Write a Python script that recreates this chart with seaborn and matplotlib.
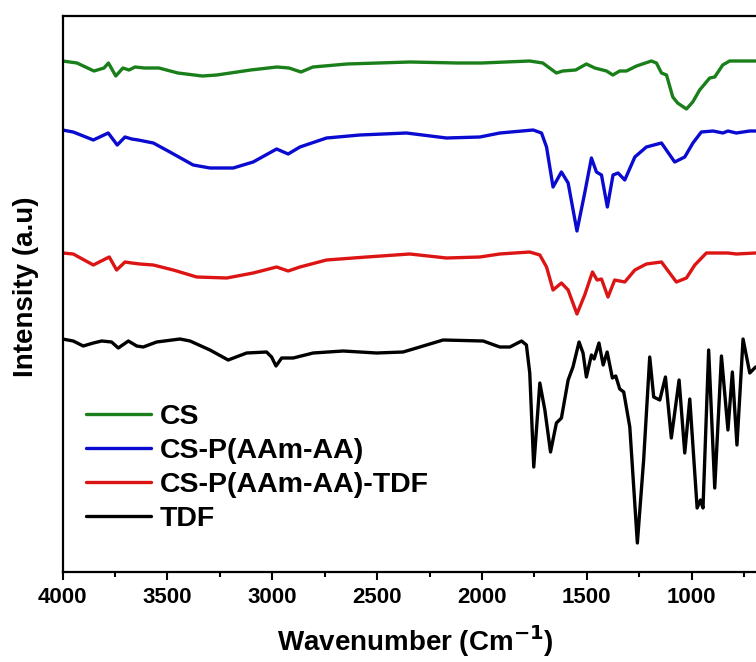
import numpy as np
import pandas as pd
import matplotlib
matplotlib.use("Agg")
import matplotlib.pyplot as plt
import seaborn as sns

# ---- data (wavenumber in cm-1, intensity in arbitrary units, stacked offsets) ----
cs_wn = [4000, 3931, 3850, 3802, 3781, 3746, 3712, 3683, 3654, 3609, 3540, 3450, 3333, 3264,
         3103, 2978, 2920, 2863, 2806, 2644, 2344, 2115, 2001, 1772, 1710, 1645, 1615, 1553,
         1502, 1462, 1406, 1376, 1343, 1311, 1263, 1192, 1168, 1144, 1120, 1090, 1067, 1025,
         995, 962, 914, 890, 852, 819, 695]
cs_int = [511, 509, 501, 504, 509, 496, 504, 502, 505, 504, 504, 499, 496, 497,
          502, 505, 504, 500, 505, 508, 510, 509, 509, 511, 509, 499, 501, 502,
          508, 504, 501, 497, 501, 501, 506, 511, 509, 499, 497, 475, 469, 463,
          470, 482, 494, 495, 507, 511, 511]

csp_wn = [4000, 3949, 3853, 3782, 3739, 3702, 3670, 3639, 3567, 3488, 3377, 3297, 3186, 3091,
          2979, 2924, 2868, 2741, 2582, 2360, 2169, 2010, 1915, 1756, 1716, 1692, 1661, 1621,
          1589, 1547, 1510, 1478, 1454, 1430, 1402, 1375, 1351, 1319, 1271, 1216, 1144, 1081,
          1033, 994, 954, 898, 851, 827, 787, 723, 695]
csp_int = [442, 440, 432, 439, 427, 435, 433, 432, 429, 420, 407, 404, 404, 410,
           423, 418, 425, 434, 437, 439, 434, 435, 439, 442, 439, 425, 385, 400,
           389, 341, 379, 414, 400, 397, 365, 397, 399, 392, 415, 425, 429, 410,
           415, 429, 440, 441, 439, 441, 439, 441, 441]

cspt_wn = [4000, 3949, 3853, 3777, 3742, 3702, 3670, 3631, 3567, 3472, 3360, 3217, 3091, 2979,
           2924, 2868, 2741, 2550, 2344, 2169, 2010, 1915, 1772, 1724, 1692, 1661, 1621, 1589,
           1547, 1510, 1473, 1451, 1430, 1399, 1367, 1319, 1271, 1216, 1144, 1073, 1025, 985,
           930, 882, 827, 787, 695]
cspt_int = [319, 318, 307, 315, 302, 310, 309, 308, 307, 302, 295, 294, 299, 305,
            301, 305, 312, 315, 318, 314, 315, 318, 320, 317, 305, 282, 289, 282,
            258, 277, 300, 292, 293, 275, 292, 290, 302, 308, 310, 290, 294, 307,
            319, 319, 319, 318, 319]

tdf_wn = [4000, 3949, 3901, 3853, 3813, 3766, 3734, 3686, 3646, 3615, 3551, 3440, 3392, 3297,
          3210, 3122, 3027, 3003, 2982, 2955, 2900, 2805, 2662, 2502, 2376, 2296, 2185, 1994,
          1915, 1867, 1811, 1788, 1772, 1753, 1724, 1700, 1673, 1645, 1621, 1589, 1566, 1537,
          1518, 1502, 1478, 1465, 1442, 1422, 1403, 1378, 1362, 1343, 1324, 1295, 1259, 1229,
          1200, 1181, 1152, 1125, 1097, 1060, 1033, 1009, 974, 958, 946, 919, 890, 858,
          827, 806, 784, 755, 723, 695]
tdf_int = [233, 231, 226, 229, 231, 230, 224, 231, 226, 225, 230, 233, 231, 222,
           212, 219, 220, 215, 206, 214, 214, 219, 221, 219, 220, 225, 232, 231,
           225, 225, 231, 227, 199, 105, 189, 162, 120, 149, 154, 192, 205, 230,
           219, 195, 217, 213, 229, 207, 220, 194, 196, 183, 180, 145, 29, 112,
           215, 175, 172, 195, 134, 192, 119, 173, 64, 72, 64, 222, 84, 216,
           142, 200, 127, 233, 199, 205]

labels = ["CS", "CS-P(AAm-AA)", "CS-P(AAm-AA)-TDF", "TDF"]
colors = ["#1a7f1a", "#0a0ad0", "#dc1414", "#000000"]

frames = []
for lab, wn, it in zip(labels, [cs_wn, csp_wn, cspt_wn, tdf_wn],
                       [cs_int, csp_int, cspt_int, tdf_int]):
    frames.append(pd.DataFrame({"Wavenumber": wn, "Intensity": it, "Sample": lab}))
df = pd.concat(frames, ignore_index=True)

sns.set_style("white")
plt.rcParams["font.family"] = ["Liberation Sans", "DejaVu Sans"]
plt.rcParams["font.weight"] = "bold"
plt.rcParams["text.color"] = "black"
plt.rcParams["axes.labelcolor"] = "black"
plt.rcParams["xtick.color"] = "black"
plt.rcParams["ytick.color"] = "black"

W, H = 756, 662
fig = plt.figure(figsize=(W / 100, H / 100), dpi=100)
ax = fig.add_axes([62.5 / W, 90 / H, 755 / W, 556 / H])

sns.lineplot(data=df, x="Wavenumber", y="Intensity", hue="Sample", hue_order=labels,
             palette=colors, estimator=None, sort=True, linewidth=2.4, ax=ax)

ax.set_xlim(4000, 400)
ax.set_ylim(0, 556)
ax.set_xticks([4000, 3500, 3000, 2500, 2000, 1500, 1000])
ax.set_xticks(np.arange(3750, 500, -500), minor=True)
ax.set_yticks([])
ax.tick_params(axis="x", which="major", direction="out", length=6, width=1.5,
               labelsize=16, pad=5, bottom=True, top=False, colors="black")
ax.tick_params(axis="x", which="minor", direction="out", length=3.5, width=1.5,
               bottom=True, top=False, colors="black")
for lbl in ax.get_xticklabels():
    lbl.set_fontweight("bold")
for s in ["left", "bottom", "top", "right"]:
    ax.spines[s].set_linewidth(1.6)
    ax.spines[s].set_color("black")

ax.set_xlabel("Wavenumber (Cm$^{\\mathbf{-1}}$)", fontsize=20, fontweight="bold")
ax.set_ylabel("Intensity (a.u)", fontsize=20, fontweight="bold")
ax.xaxis.set_label_coords((415 - 62.5) / 755, -0.092)
ax.yaxis.set_label_coords(-0.031, (572 - 287) / 556)

leg = ax.legend(loc="upper left", bbox_to_anchor=((86 - 62.5) / 755, (572 - 404) / 556),
                frameon=False, fontsize=20.5, handlelength=2.3, handletextpad=0.3,
                labelspacing=0.28, borderpad=0, borderaxespad=0)
for t in leg.get_texts():
    t.set_fontweight("bold")
    t.set_color("black")
for l in leg.get_lines():
    l.set_linewidth(2.4)

fig.savefig("out.png", dpi=100)
